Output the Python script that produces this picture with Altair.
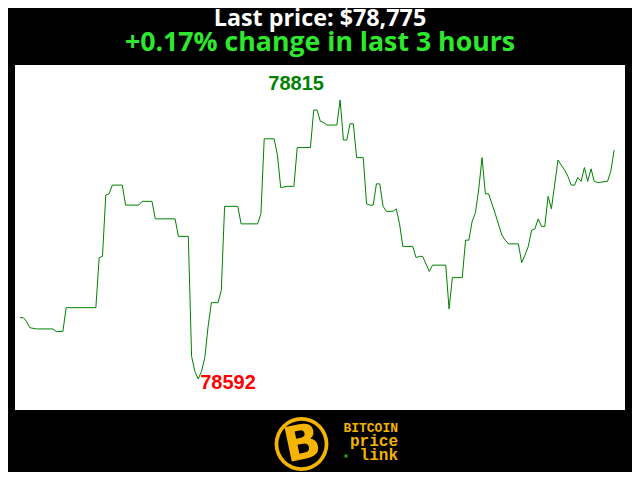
import altair as alt
import pandas as pd

# minutes since start of the 3-hour window, and BTC price (USD)
minutes = [0, 1, 2, 3, 5, 10, 11, 13, 14, 20, 23, 24, 25, 26, 27, 28, 31, 32, 36, 37,
           40, 41, 47, 48, 51, 52, 53, 54, 55, 56, 57, 58, 60, 61, 62, 66, 67, 72, 73, 74,
           77, 78, 79, 81, 83, 84, 88, 89, 90, 91, 92, 93, 96, 97, 98, 99, 100, 101, 102, 104,
           105, 106, 107, 108, 109, 110, 111, 113, 114, 115, 116, 119, 120, 121, 122, 124, 125, 129, 130, 131,
           134, 135, 136, 137, 138, 139, 140, 141, 142, 144, 146, 147, 148, 151, 152, 153, 154, 155, 156, 157,
           158, 159, 160, 161, 163, 165, 166, 167, 168, 169, 170, 171, 172, 173, 174, 175, 178, 179, 180]
prices = [78641, 78641, 78638, 78633, 78632, 78632, 78630, 78630, 78649, 78649, 78649, 78689, 78690, 78739, 78740, 78747, 78747, 78731, 78731, 78734,
          78734, 78720, 78720, 78706, 78706, 78610, 78598, 78592, 78598, 78609, 78634, 78653, 78653, 78663, 78730, 78730, 78716, 78716, 78724, 78784,
          78784, 78771, 78745, 78746, 78746, 78777, 78777, 78807, 78807, 78798, 78797, 78795, 78795, 78815, 78783, 78783, 78796, 78796, 78769, 78769,
          78732, 78731, 78731, 78748, 78748, 78730, 78726, 78726, 78728, 78716, 78698, 78698, 78689, 78690, 78690, 78678, 78683, 78683, 78648, 78673,
          78673, 78703, 78703, 78718, 78725, 78744, 78769, 78740, 78740, 78724, 78707, 78703, 78700, 78700, 78685, 78691, 78698, 78711, 78712, 78720,
          78714, 78714, 78738, 78728, 78767, 78759, 78754, 78747, 78747, 78753, 78750, 78761, 78750, 78760, 78750, 78749, 78750, 78758, 78775]

title_text = "Last price: $78,775"
subtitle_text = "+0.17% change in last 3 hours"
logo_lines = ["BITCOIN", "price", "link"]

df = pd.DataFrame({"minute": minutes, "price": prices})
max_row = df.loc[[df["price"].idxmax()]]
min_row = df.loc[[df["price"].idxmin()]]

x_scale = alt.Scale(domain=[-1.5, 183.3], nice=False, zero=False)
y_scale = alt.Scale(domain=[78567.2, 78843], nice=False, zero=False)
X = alt.X("minute:Q", scale=x_scale, axis=None)
Y = alt.Y("price:Q", scale=y_scale, axis=None)

line = alt.Chart(df).mark_line(color="#008000", strokeWidth=1, clip=True).encode(x=X, y=Y)

max_lbl = alt.Chart(max_row).mark_text(
    color="#008000", font="Liberation Sans", fontWeight="bold", fontSize=20,
    align="center", baseline="alphabetic", dx=-44, dy=-10
).encode(x=X, y=Y, text=alt.Text("price:Q", format="d"))

min_lbl = alt.Chart(min_row).mark_text(
    color="#ff0000", font="Liberation Sans", fontWeight="bold", fontSize=20,
    align="left", baseline="alphabetic", dx=2, dy=10
).encode(x=X, y=Y, text=alt.Text("price:Q", format="d"))

title = alt.Chart(pd.DataFrame({"t": [title_text]})).mark_text(
    color="white", font="Open Sans", fontWeight="bold", fontSize=23.3,
    align="center", baseline="alphabetic"
).encode(x=alt.value(305), y=alt.value(-39), text="t:N")

subtitle = alt.Chart(pd.DataFrame({"t": [subtitle_text]})).mark_text(
    color="#2ee82e", font="Open Sans", fontWeight="bold", fontSize=26.7,
    align="center", baseline="alphabetic"
).encode(x=alt.value(305), y=alt.value(-14), text="t:N")

one = pd.DataFrame({"k": [0]})
gold = "#f4b400"
cx, cy = 286.5, 379
ring = alt.Chart(one).mark_point(shape="circle", filled=True, color=gold, size=2900, opacity=1).encode(
    x=alt.value(cx), y=alt.value(cy))
inner = alt.Chart(one).mark_point(shape="circle", filled=True, color="black", size=2150, opacity=1).encode(
    x=alt.value(cx), y=alt.value(cy))
bglyph = alt.Chart(pd.DataFrame({"t": ["B"]})).mark_text(
    color=gold, font="DejaVu Sans", fontWeight="bold", fontSize=48, angle=348,
    align="center", baseline="middle"
).encode(x=alt.value(cx + 1), y=alt.value(cy + 1), text="t:N")

logo_df = pd.DataFrame({"t": logo_lines, "yy": [367, 381, 395], "fs": [13, 16, 16]})
logo_txt = alt.Chart(logo_df).mark_text(
    color=gold, font="Liberation Mono", fontWeight="bold", align="right", baseline="alphabetic"
).encode(x=alt.value(383), y=alt.Y("yy:Q", scale=None, axis=None),
         text="t:N", size=alt.Size("fs:Q", scale=None, legend=None))
dot = alt.Chart(one).mark_point(shape="square", filled=True, color="#22aa22", size=9, opacity=1).encode(
    x=alt.value(331), y=alt.value(391))

chart = alt.layer(line, max_lbl, min_lbl, title, subtitle, ring, inner, bglyph, logo_txt, dot).properties(
    width=610, height=345,
    autosize=alt.AutoSizeParams(type="none"),
    padding={"left": 7, "top": 57, "right": 7, "bottom": 62},
    background="black",
).configure_view(fill="white", stroke=None)

chart.save("out.html", embed_options={"renderer": "svg", "actions": False})
